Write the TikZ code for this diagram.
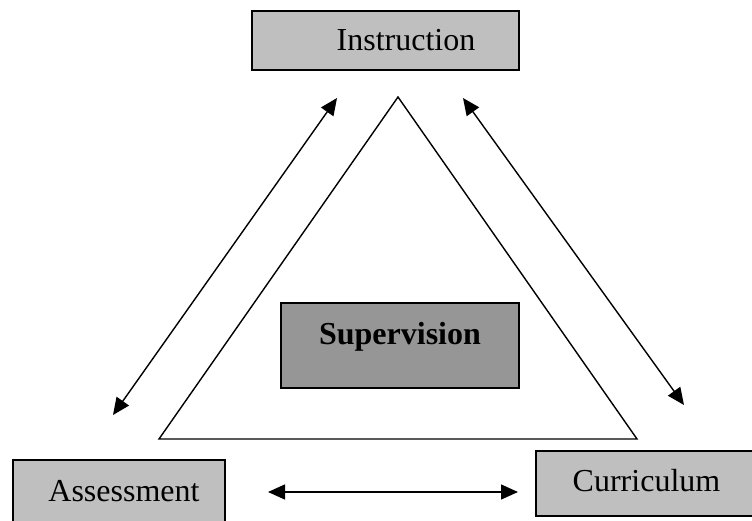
\documentclass[tikz,border=0pt]{standalone}
\usepackage{fontspec}
\setmainfont{Liberation Serif}
\usetikzlibrary{arrows.meta}

\begin{document}
\begin{tikzpicture}[x=1pt,y=-1pt,
    topic/.style={draw=black, line width=1.6pt, fill=black!25, inner sep=0pt,
      font=\fontsize{32}{38}\selectfont, text height=21pt, text depth=0pt},
    link/.style={line width=1.4pt, {Triangle[length=17pt,width=15pt]}-{Triangle[length=17pt,width=15pt]}}]
          \path[use as bounding box, fill=white] (0,0) rectangle (752,521);
          \clip (0,0) rectangle (752,521);

          \draw[line width=1.4pt] (398,97) -- (637,439) -- (159,439) -- cycle;

          \node[topic, minimum width=267pt, minimum height=59pt] (instr) at (385.5,40.5) {\hspace*{41pt}Instruction};
          \node[topic, fill=black!41, minimum width=238pt, minimum height=85pt, text depth=23pt,
            font=\fontsize{32}{38}\selectfont\bfseries] (superv) at (400,345.5) {Supervision};
          \node[topic, minimum width=212pt, minimum height=70pt, text depth=9pt] (assess) at (119,495) {\hspace*{10pt}Assessment};
          \node[topic, minimum width=234pt, minimum height=65pt, text depth=5pt] (curric) at (653,483.5) {Curriculum\hspace*{13pt}};

          \coordinate (ia) at (337,98);  \coordinate (ai) at (113,415);
          \coordinate (ic) at (463,98);  \coordinate (ci) at (684,405);
          \coordinate (ac) at (268,492); \coordinate (ca) at (518,492);
          \draw[link] (ai) -- (ia);
          \draw[link] (ic) -- (ci);
          \draw[link] (ac) -- (ca);

        \end{tikzpicture}
\end{document}
